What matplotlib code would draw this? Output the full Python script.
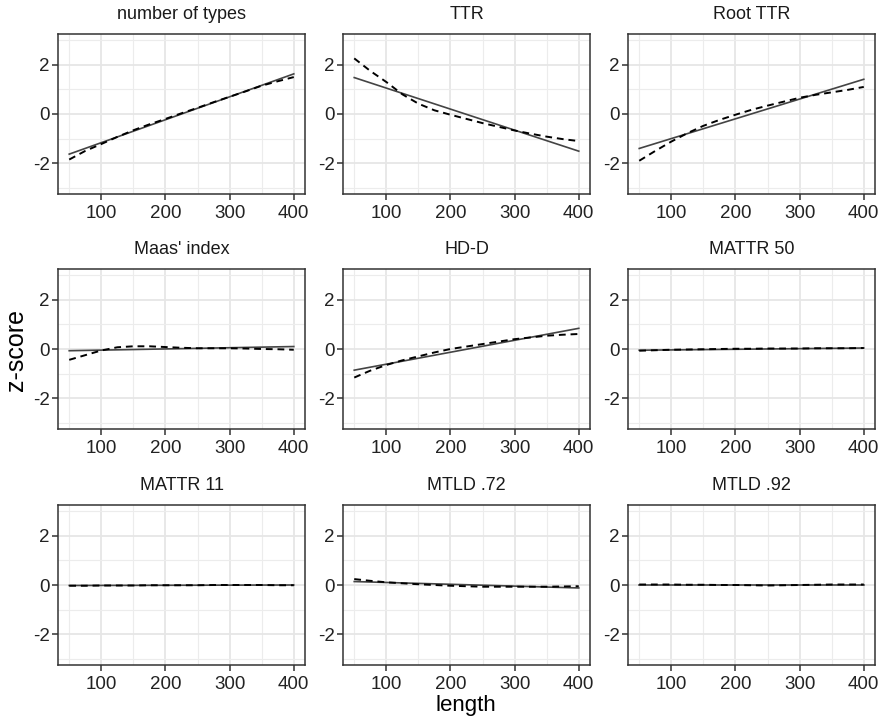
import numpy as np
import matplotlib
matplotlib.use("Agg")
import matplotlib.pyplot as plt

plt.rcParams['font.family'] = ['Liberation Sans', 'DejaVu Sans']
plt.rcParams['axes.unicode_minus'] = False

titles = ["number of types", "TTR", "Root TTR",
          "Maas' index", "HD-D", "MATTR 50",
          "MATTR 11", "MTLD .72", "MTLD .92"]

# x positions of the smooth (dashed) curve
x_curve = [50, 75, 100, 125, 150, 175, 200, 225, 250, 275, 300, 325, 350, 375, 400]
# endpoints of the linear fit (solid)
x_fit = [50, 400]

curve_types = [-1.85, -1.5, -1.22, -0.93, -0.66, -0.42, -0.2, 0.03, 0.25, 0.48,
               0.7, 0.92, 1.15, 1.33, 1.5]
fit_types = [-1.63, 1.63]

curve_ttr = [2.26, 1.75, 1.3, 0.8, 0.42, 0.15, -0.03, -0.2, -0.37, -0.52,
             -0.67, -0.8, -0.92, -1.02, -1.1]
fit_ttr = [1.48, -1.51]

curve_root = [-1.9, -1.5, -1.12, -0.78, -0.48, -0.24, -0.03, 0.17, 0.34, 0.5,
              0.66, 0.78, 0.88, 0.98, 1.1]
fit_root = [-1.4, 1.41]

curve_maas = [-0.44, -0.25, -0.06, 0.07, 0.11, 0.11, 0.08, 0.05, 0.03, 0.03,
              0.03, 0.02, 0.0, -0.01, -0.03]
fit_maas = [-0.07, 0.1]

curve_hdd = [-1.16, -0.88, -0.65, -0.46, -0.3, -0.14, 0.0, 0.1, 0.2, 0.3,
             0.4, 0.47, 0.54, 0.58, 0.61]
fit_hdd = [-0.86, 0.84]

curve_m50 = [-0.07, -0.05, -0.03, -0.02, -0.01, 0.0, 0.01, 0.01, 0.02, 0.02,
             0.02, 0.03, 0.03, 0.03, 0.04]
fit_m50 = [-0.05, 0.04]

curve_m11 = [-0.03, -0.03, -0.02, -0.02, -0.02, -0.01, -0.01, -0.01, -0.01, 0.0,
             0.0, 0.0, 0.0, -0.01, -0.01]
fit_m11 = [-0.02, 0.0]

curve_mtld72 = [0.24, 0.17, 0.11, 0.07, 0.03, 0.0, -0.03, -0.05, -0.07, -0.07,
                -0.07, -0.07, -0.07, -0.06, -0.05]
fit_mtld72 = [0.14, -0.12]

curve_mtld92 = [0.02, 0.02, 0.02, 0.01, 0.01, 0.0, 0.0, -0.01, -0.02, -0.01,
                0.0, 0.01, 0.02, 0.02, 0.02]
fit_mtld92 = [0.01, 0.01]

curves = [curve_types, curve_ttr, curve_root, curve_maas, curve_hdd,
          curve_m50, curve_m11, curve_mtld72, curve_mtld92]
fits = [fit_types, fit_ttr, fit_root, fit_maas, fit_hdd,
        fit_m50, fit_m11, fit_mtld72, fit_mtld92]

W, H = 886, 719
fig = plt.figure(figsize=(W / 100, H / 100), dpi=100)

col_left = [58, 343, 628]
row_top = [34, 269, 505]
pw, ph = 247, 160

for i in range(9):
    r, c = divmod(i, 3)
    ax = fig.add_axes([col_left[c] / W, 1 - (row_top[r] + ph) / H, pw / W, ph / H])
    ax.set_xlim(32.5, 417.5)
    ax.set_ylim(-3.25, 3.25)
    ax.set_xticks([100, 200, 300, 400])
    ax.set_xticks([50, 150, 250, 350], minor=True)
    ax.set_yticks([-2, 0, 2])
    ax.set_yticks([-3, -1, 1, 3], minor=True)
    ax.grid(which='major', color='#e6e6e6', lw=1.3)
    ax.grid(which='minor', color='#ececec', lw=0.8)
    ax.set_axisbelow(True)
    ax.tick_params(which='major', length=4, width=1.1, color='#333333',
                   labelsize=13.5, labelcolor='#222222', pad=2)
    ax.tick_params(axis='x', which='major', pad=4)
    ax.tick_params(which='minor', length=0)
    for s in ax.spines.values():
        s.set_color('#333333')
        s.set_linewidth(1.1)
    ax.plot(x_fit, fits[i], color='#444444', lw=1.2, zorder=3)
    ax.plot(x_curve, curves[i], color='black', lw=1.4, ls=(0, (3.5, 2.5)), zorder=4)
    ax.set_title(titles[i], fontsize=13, color='#1a1a1a', pad=11)

fig.text(16 / W, 1 - 350 / H, "z-score", rotation=90, ha='center', va='center',
         fontsize=18, color='black')
fig.text(466 / W, 1 - 706 / H, "length", ha='center', va='center',
         fontsize=16, color='black')

fig.savefig("out.png", dpi=100)
